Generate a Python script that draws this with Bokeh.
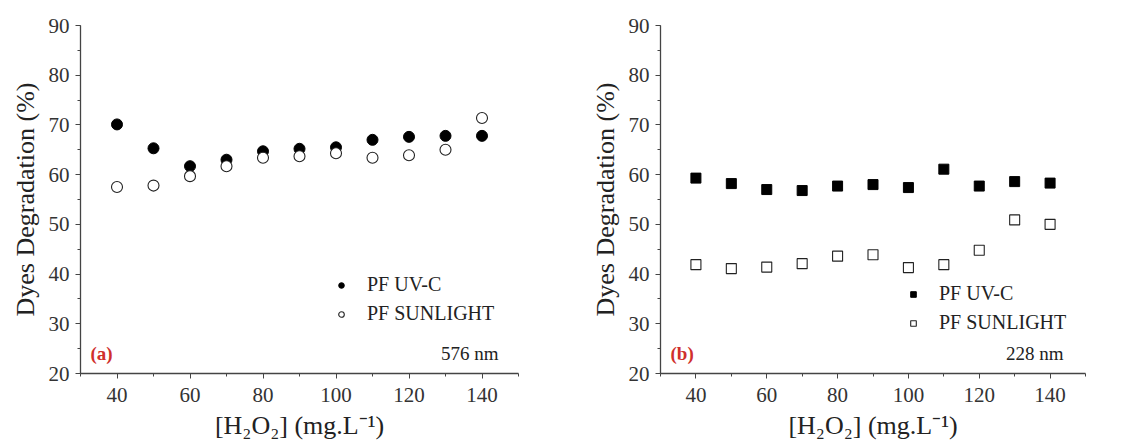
from bokeh.plotting import figure
from bokeh.layouts import row
from bokeh.models import Legend, LegendItem, Label, SingleIntervalTicker, Range1d
from bokeh.embed import file_html
from bokeh.resources import INLINE

h2o2 = [40, 50, 60, 70, 80, 90, 100, 110, 120, 130, 140]
a_uvc = [70.1, 65.3, 61.7, 63.0, 64.7, 65.2, 65.5, 67.0, 67.6, 67.8, 67.8]
a_sun = [57.5, 57.8, 59.7, 61.7, 63.4, 63.7, 64.3, 63.4, 63.9, 65.0, 71.4]
b_uvc = [59.3, 58.2, 57.0, 56.8, 57.7, 58.0, 57.4, 61.1, 57.7, 58.6, 58.3]
b_sun = [41.9, 41.1, 41.4, 42.1, 43.6, 43.9, 41.3, 41.9, 44.8, 50.9, 50.0]

series_labels = ["PF UV-C", "PF SUNLIGHT"]
panel_tags = ["(a)", "(b)"]
wavelengths = ["576 nm", "228 nm"]
x_label = "[H\u2082O\u2082] (mg.L\u207b\u00b9)"
y_label = "Dyes Degradation (%)"

FONT = "Liberation Serif"


def make_panel(width, left, right, uvc, sun, marker, tag, wl, leg_x, leg_y, wl_x):
    p = figure(width=width, height=448, output_backend="svg", toolbar_location=None,
               min_border_left=left, min_border_right=right, min_border_top=25,
               min_border_bottom=75, x_range=Range1d(30, 150), y_range=Range1d(20, 90))
    p.outline_line_color = None
    p.xgrid.visible = False
    p.ygrid.visible = False
    p.background_fill_color = "white"
    p.border_fill_color = "white"

    p.xaxis.ticker = SingleIntervalTicker(interval=20, num_minor_ticks=2)
    p.yaxis.ticker = SingleIntervalTicker(interval=10, num_minor_ticks=2)
    for ax in (p.xaxis[0], p.yaxis[0]):
        ax.axis_line_color = "#444444"
        ax.axis_line_width = 1.3
        ax.major_tick_line_color = "#444444"
        ax.minor_tick_line_color = "#444444"
        ax.major_tick_out = 5
        ax.major_tick_in = 0
        ax.minor_tick_out = 3
        ax.minor_tick_in = 0
        ax.major_label_text_font = FONT
        ax.major_label_text_font_size = "21px"
        ax.major_label_text_color = "#333333"
        ax.axis_label_text_font = FONT
        ax.axis_label_text_font_size = "26px"
        ax.axis_label_text_font_style = "normal"
        ax.axis_label_text_color = "#222222"
    p.xaxis.axis_label = x_label
    p.yaxis.axis_label = y_label
    p.xaxis.major_label_standoff = 9
    p.yaxis.major_label_standoff = 6
    p.xaxis.axis_label_standoff = 6
    p.yaxis.axis_label_standoff = 6

    if marker == "circle":
        r1 = p.scatter(h2o2, uvc, marker="circle", size=11, fill_color="black", line_color="black")
        r2 = p.scatter(h2o2, sun, marker="circle", size=11, fill_color="white", line_color="#222222", line_width=1.1)
    else:
        r1 = p.scatter(h2o2, uvc, marker="square", size=10, fill_color="black", line_color="black")
        r2 = p.scatter(h2o2, sun, marker="square", size=10, fill_color="white", line_color="#222222", line_width=1.1)

    legend = Legend(items=[LegendItem(label=series_labels[0], renderers=[r1]),
                           LegendItem(label=series_labels[1], renderers=[r2])],
                    location=(leg_x, leg_y), background_fill_alpha=0, border_line_color=None,
                    label_text_font=FONT, label_text_font_size="20px", label_text_color="#222222",
                    glyph_width=14, glyph_height=14, label_standoff=19, spacing=6,
                    padding=0, margin=0)
    p.add_layout(legend, "center")

    p.add_layout(Label(x=10, y=10, x_units="screen", y_units="screen", text=tag,
                       text_font=FONT, text_font_size="19px", text_font_style="bold",
                       text_color="#d0302c"))
    p.add_layout(Label(x=wl_x, y=10, x_units="screen", y_units="screen",
                       text=wl, text_font=FONT, text_font_size="19px", text_color="#222222",
                       text_align="right"))
    return p


p1 = make_panel(560, 80, 42, a_uvc, a_sun, "circle", panel_tags[0], wavelengths[0], 254, 48, 418)
p2 = make_panel(570, 100, 45, b_uvc, b_sun, "square", panel_tags[1], wavelengths[1], 246, 39, 403)

layout = row(p1, p2)
open("out.html", "w").write(file_html(layout, INLINE))
